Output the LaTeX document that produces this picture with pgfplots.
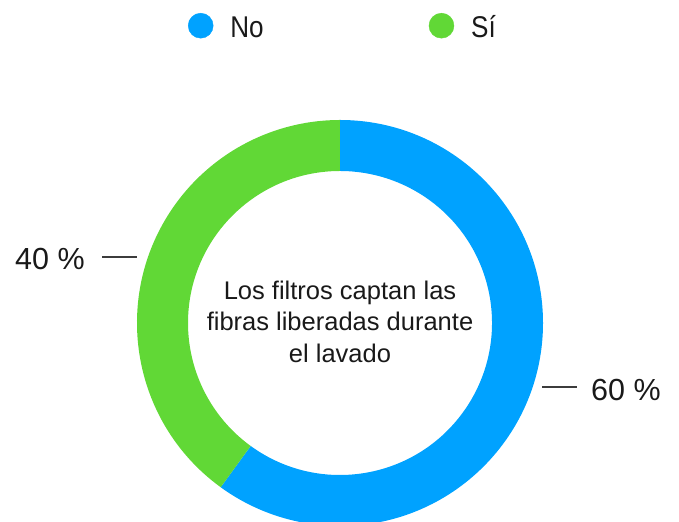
\documentclass[border=0pt]{standalone}
\usepackage{fontspec}
\setmainfont{Liberation Sans}
\newfontfamily\legfont[FakeStretch=0.87]{Liberation Sans}
\usepackage{pgfplots}
\usepackage{pgfplotstable}
\pgfplotsset{compat=1.18}
\usetikzlibrary{calc}
\definecolor{cNo}{RGB}{0,162,255}
\definecolor{cSi}{RGB}{97,216,54}
\definecolor{txt}{RGB}{25,25,25}
\definecolor{lead}{RGB}{60,60,60}
\pgfplotstableread{
label value
No 60
Si 40
}\datatable
\begin{document}%
\begin{tikzpicture}
\pgfplotstablegetelem{0}{value}\of\datatable\let\vNo\pgfplotsretval
\pgfplotstablegetelem{1}{value}\of\datatable\let\vSi\pgfplotsretval
\pgfmathsetmacro\fNo{\vNo/(\vNo+\vSi)}
\pgfmathsetmacro\fSi{\vSi/(\vNo+\vSi)}
\pgfmathsetmacro\aA{90}
\pgfmathsetmacro\aB{90-360*\fNo}
\pgfmathsetmacro\aC{\aB-360*\fSi}
\begin{axis}[x=1bp,y=1bp,xmin=0,xmax=679,ymin=0,ymax=522,hide axis,clip=true,
  legend columns=2,
  legend cell align=left,
  legend style={draw=none, fill=none, inner sep=0pt, outer sep=0pt,
    at={(axis cs:188,509)}, anchor=north west,
    font=\legfont\fontsize{30bp}{32bp}\selectfont,
    cells={anchor=base west},
    nodes={inner sep=0pt, text=txt, text height=20bp, text depth=0pt},
    /tikz/every odd column/.append style={column sep=17bp},
    /tikz/every even column/.append style={column sep=165bp}}]
\addlegendimage{legend image code/.code={\fill[cNo] (12.5bp,12bp) circle[radius=12.5bp];}}
\addlegendentry{No}
\addlegendimage{legend image code/.code={\fill[cSi] (12.5bp,12bp) circle[radius=12.5bp];}}
\addlegendentry{Sí}
\fill[cNo] ($(axis cs:340,199)+(\aA:203bp)$) arc[start angle=\aA,end angle=\aB,radius=203bp]
  -- ($(axis cs:340,199)+(\aB:152bp)$) arc[start angle=\aB,end angle=\aA,radius=152bp] -- cycle;
\fill[cSi] ($(axis cs:340,199)+(\aB:203bp)$) arc[start angle=\aB,end angle=\aC,radius=203bp]
  -- ($(axis cs:340,199)+(\aC:152bp)$) arc[start angle=\aC,end angle=\aB,radius=152bp] -- cycle;
\node[anchor=base, inner sep=0pt, text=txt, font=\fontsize{25.5bp}{30bp}\selectfont] at (axis cs:340,222) {Los filtros captan las};
\node[anchor=base, inner sep=0pt, text=txt, font=\fontsize{25.5bp}{30bp}\selectfont] at (axis cs:340,191) {fibras liberadas durante};
\node[anchor=base, inner sep=0pt, text=txt, font=\fontsize{25.5bp}{30bp}\selectfont] at (axis cs:340,159) {el lavado};
\draw[lead, line width=1.3bp] (axis cs:102,265) -- (axis cs:137,265);
\draw[lead, line width=1.3bp] (axis cs:542,135) -- (axis cs:577,135);
\node[anchor=base west, inner sep=0pt, text=txt, font=\fontsize{30.5bp}{34bp}\selectfont] at (axis cs:15,252) {\vSi~\%};
\node[anchor=base west, inner sep=0pt, text=txt, font=\fontsize{30.5bp}{34bp}\selectfont] at (axis cs:591,121) {\vNo~\%};
\end{axis}
\pgfresetboundingbox
\path (current axis.south west) rectangle (current axis.north east);
\end{tikzpicture}%
\end{document}
